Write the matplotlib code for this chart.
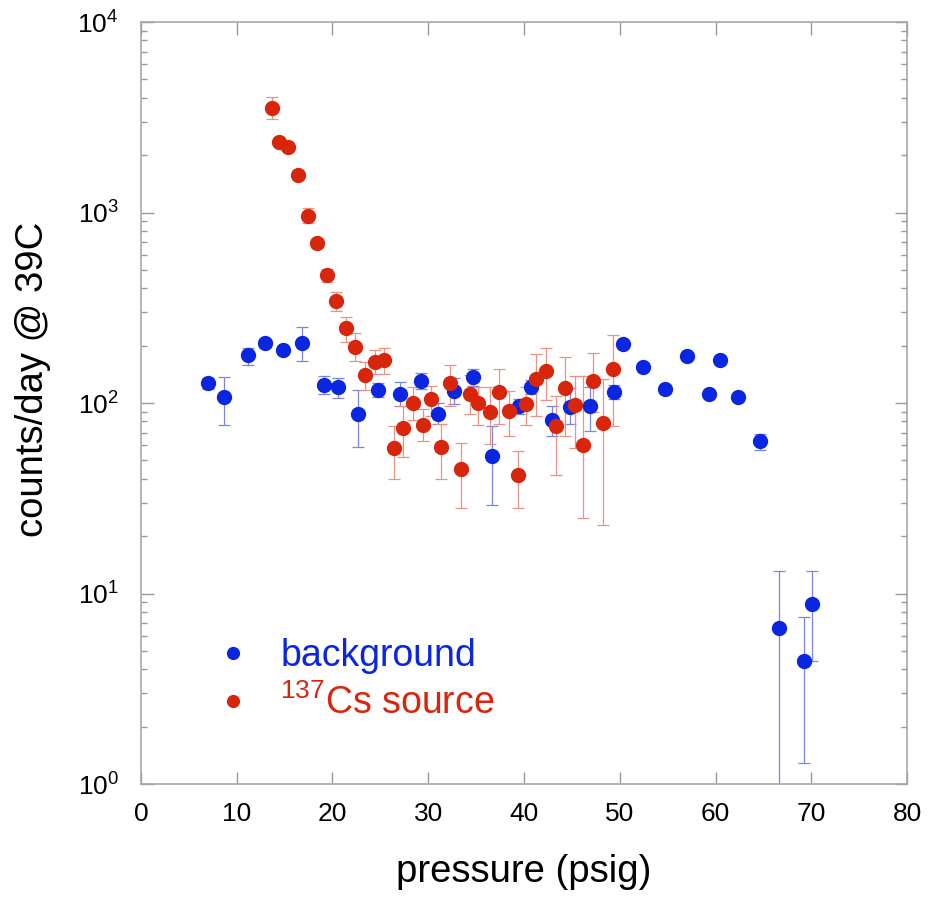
import numpy as np
import matplotlib
matplotlib.use("Agg")
import matplotlib.pyplot as plt

plt.rcParams['font.family'] = ['Liberation Sans', 'DejaVu Sans']
plt.rcParams['mathtext.default'] = 'regular'

# background runs
x_bg = [7.0, 8.7, 11.2, 12.9, 14.8, 16.8, 19.1, 20.6, 22.7, 24.8, 27.0, 29.2, 31.0,
        32.7, 34.7, 36.7, 39.5, 40.7, 42.9, 44.8, 46.9, 49.4, 50.3, 52.4, 54.7, 57.0,
        59.3, 60.5, 62.3, 64.6, 66.6, 69.2, 70.1]
y_bg = [127, 107, 179, 206, 190, 207, 125, 121, 88, 117, 112, 130, 88,
        116, 137, 53, 96, 122, 81, 95, 96, 114, 205, 155, 118, 177,
        112, 168, 108, 63, 6.57, 4.41, 8.84]
lo_bg = [119, 77, 158, 198, 182, 166, 112, 106, 59, 107, 96, 118, 78,
         99, 123, 29, 88, 112, 67, 78, 71, 105, 198, 149, 113, 171,
         108, 162, 104, 57, 0.1, 1.29, 4.41]
hi_bg = [136, 137, 195, 214, 198, 251, 139, 136, 117, 128, 129, 143, 100,
         135, 150, 76, 105, 132, 96, 120, 122, 124, 212, 161, 123, 183,
         116, 174, 112, 69, 13.2, 7.55, 13.2]

# 137Cs source runs
x_cs = [13.7, 14.4, 15.4, 16.4, 17.4, 18.4, 19.4, 20.4, 21.4, 22.4, 23.4, 24.4, 25.4,
        26.4, 27.4, 28.4, 29.4, 30.3, 31.3, 32.3, 33.4, 34.4, 35.2, 36.4, 37.4, 38.4,
        39.4, 40.2, 41.3, 42.3, 43.3, 44.3, 45.3, 46.2, 47.2, 48.2, 49.3]
y_cs = [3524, 2354, 2198, 1574, 959, 689, 468, 342, 247, 198, 141, 164, 168,
        58, 74, 100, 77, 105, 59, 127, 45, 112, 100, 90, 114, 91,
        42, 99, 133, 148, 76, 120, 98, 60, 130, 79, 151]
lo_cs = [3085, 2280, 2130, 1510, 877, 650, 433, 305, 210, 166, 117, 142, 142,
         40, 52, 81, 63, 86, 40, 96, 28, 88, 77, 61, 78, 67,
         28, 77, 86, 104, 42, 67, 58, 25, 90, 23, 76]
hi_cs = [4030, 2430, 2270, 1640, 1052, 730, 503, 381, 284, 232, 165, 190, 195,
         76, 96, 121, 93, 123, 78, 158, 62, 140, 122, 121, 151, 116,
         56, 122, 181, 194, 109, 174, 139, 139, 184, 134, 228]

blue = '#0a26e0'
red = '#d8260c'

fig = plt.figure(figsize=(9.3, 8.98), dpi=100)
ax = fig.add_axes([0.1516, 0.1269, 0.8237, 0.8486])

def err(y, lo, hi):
    y = np.array(y, float)
    return [y - np.array(lo, float), np.array(hi, float) - y]

ax.errorbar(x_bg, y_bg, yerr=err(y_bg, lo_bg, hi_bg), fmt='o', color=blue,
            ms=10, mec=blue, ecolor='#7b86e0', elinewidth=0.9, capsize=4,
            capthick=0.9)
ax.errorbar(x_cs, y_cs, yerr=err(y_cs, lo_cs, hi_cs), fmt='o', color=red,
            ms=10, mec=red, ecolor='#e89484', elinewidth=0.9, capsize=4,
            capthick=0.9)

ax.set_yscale('log')
ax.set_xlim(0, 80)
ax.set_ylim(1, 1e4)
ax.set_xticks(range(0, 81, 10))

for s in ax.spines.values():
    s.set_color('#a8a8a8')
    s.set_linewidth(1.2)
ax.tick_params(which='both', direction='in', top=True, right=True, color='#999999')
ax.tick_params(which='major', length=9, width=1, labelsize=19, pad=13)
ax.tick_params(which='minor', length=4.5, width=1)
ax.tick_params(axis='y', which='major', pad=16)

ax.set_xlabel('pressure (psig)', fontsize=27.5, labelpad=20)
ax.set_ylabel('counts/day @ 39C', fontsize=27.5)
ax.yaxis.set_label_coords(-0.118, 0.531)

# legend: plain marker handles
h_bg, = ax.plot([], [], 'o', color=blue, ms=8.5)
h_cs, = ax.plot([], [], 'o', color=red, ms=8.5)
leg = ax.legend([h_bg, h_cs], ['background', '$^{137}$Cs source'],
                loc='lower left', bbox_to_anchor=(0.052, 0.037), frameon=False,
                fontsize=27, handlelength=1.0, handletextpad=0.75,
                labelspacing=0.28)
for t, c in zip(leg.get_texts(), [blue, red]):
    t.set_color(c)

fig.savefig('out.png', dpi=100)
